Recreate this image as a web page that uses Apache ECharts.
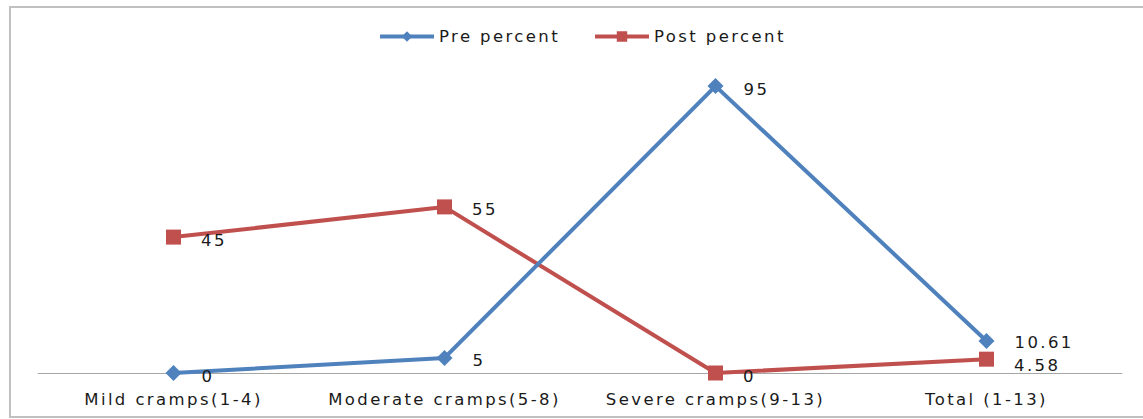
<!DOCTYPE html>
<html>
<head>
<meta charset="utf-8">
<script src="https://cdn.jsdelivr.net/npm/echarts@6/dist/echarts.min.js"></script>
<style>
html,body{margin:0;padding:0;background:#fff;}
#chart{width:1143px;height:419px;}
#chart svg text{letter-spacing:2.4px;}
</style>
</head>
<body>
<div id="chart"></div>
<script>
const categories = ['Mild cramps(1-4)', 'Moderate cramps(5-8)', 'Severe cramps(9-13)', 'Total (1-13)'];
const prePercent = [0, 5, 95, 10.61];
const postPercent = [45, 55, 0, 4.58];
const seriesNames = ['Pre percent', 'Post percent'];

const chart = echarts.init(document.getElementById('chart'), null, {renderer: 'svg'});
const font = "'DejaVu Sans', Verdana, sans-serif";
const textColor = '#1a1a1a';
const fs = 16.5;
const labelStyle = {
  show: true,
  fontFamily: font,
  fontSize: fs,
  color: textColor,
  position: 'right',
  distance: 20,
  offset: [0, 3]
};
const legendCommon = {
  top: 28,
  padding: 0,
  itemWidth: 54,
  itemHeight: 13,
  itemGap: 5,
  lineStyle: {width: 4},
  textStyle: {fontFamily: font, fontSize: fs, color: textColor}
};
chart.setOption({
  animation: false,
  graphic: [{
    type: 'rect',
    shape: {x: 10, y: 7, width: 1140, height: 410},
    style: {fill: 'none', stroke: '#c0c0c0', lineWidth: 2},
    z: -1
  }],
  legend: [
    Object.assign({left: 378, data: [seriesNames[0]]}, legendCommon),
    Object.assign({left: 593, data: [seriesNames[1]]}, legendCommon)
  ],
  grid: {left: 38, right: 21, top: 71, bottom: 46, containLabel: false},
  xAxis: {
    type: 'category',
    data: categories,
    boundaryGap: true,
    axisLine: {lineStyle: {color: '#a6a6a6', width: 1}},
    axisTick: {show: false},
    axisLabel: {fontFamily: font, fontSize: fs, color: textColor, margin: 18}
  },
  yAxis: {
    type: 'value',
    min: 0,
    max: 100,
    show: false,
    splitLine: {show: false}
  },
  series: [
    {
      name: seriesNames[0],
      type: 'line',
      data: prePercent.map((v, i) => i === 3 ? {value: v, label: {offset: [0, 2]}} : v),
      symbol: 'diamond',
      symbolSize: 16,
      color: '#4F81BD',
      lineStyle: {width: 4, color: '#4F81BD'},
      itemStyle: {color: '#4F81BD'},
      label: labelStyle,
      z: 3
    },
    {
      name: seriesNames[1],
      type: 'line',
      data: postPercent.map((v, i) => i === 3 ? {value: v, label: {offset: [0, 6]}} : v),
      symbol: 'rect',
      symbolSize: 15,
      color: '#C0504D',
      lineStyle: {width: 4, color: '#C0504D'},
      itemStyle: {color: '#C0504D'},
      label: labelStyle,
      z: 2
    }
  ]
});
</script>
</body>
</html>
